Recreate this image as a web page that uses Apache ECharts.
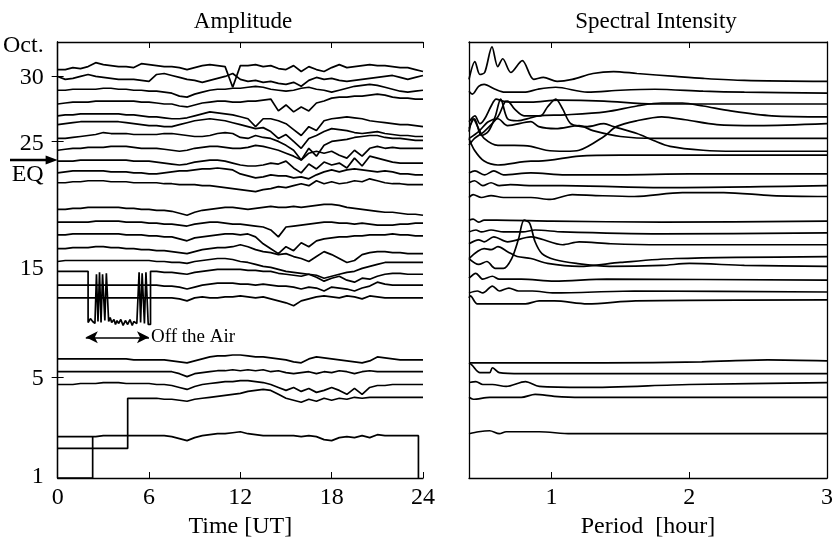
<!DOCTYPE html>
<html>
<head>
<meta charset="utf-8">
<script src="https://cdn.jsdelivr.net/npm/echarts@6/dist/echarts.min.js"></script>
<style>
html, body { margin: 0; padding: 0; background: #fff; }
#main { width: 836px; height: 544px; }
</style>
</head>
<body>
<div id="main"></div>
<script>
// vertical unit: stacked offset (row of the record in the figure), 42 top .. 485 bottom
var hours = [0,0.5,1,1.5,2,2.5,3,3.5,4,4.5,5,5.5,6,6.5,7,7.5,8,8.5,9,9.5,10,10.5,11,11.5,12,
  12.5,13,13.5,14,14.5,15,15.5,16,16.5,17,17.5,18,18.5,19,19.5,20,20.5,21,21.5,22,22.5,23,23.5,24];

// amplitude records, one value per half hour
var oct31Amp = [70,70,68,69,67,63,65,66,67,67, 68,64,65,66,67,67,68,70,68,66, 65,66,67,88,66,66,65,67,66,69, 70,66,72,67,70,72,68,65,68,67, 66,65,66,66,67,68,68,70,72];
var oct30Amp = [77,80,79,77,75,77,78,79,80,80, 80,81,82,75,74,76,78,80,81,83, 81,79,77,74,80,82,81,83,82,84, 85,83,87,81,78,80,79,81,82,81, 80,79,78,77,76,78,80,78,76];
var oct29Amp = [91,91,90,90,90,90,89,89,90,90, 91,91,92,92,93,94,97,98,95,93, 91,90,90,89,89,88,87,88,90,91, 92,91,89,88,90,91,93,91,89,87, 86,85,86,88,90,92,93,92,91];
var oct28Amp = [105,104,103,103,103,102,102,102,102,102, 102,103,103,104,105,105,107,108,106,104, 103,102,102,103,103,102,102,101,100,112, 106,113,108,112,104,102,99,98,98,97, 97,96,95,96,98,99,99,100,100];
var oct27Amp = [117,116,116,115,115,115,115,115,115,116, 116,117,118,118,119,120,120,119,117,115, 113,114,115,116,118,120,128,120,120,122, 125,131,137,128,132,122,120,119,118,119, 120,122,123,124,125,126,126,127,128];
var oct26Amp = [126,125,124,123,123,123,123,123,123,124, 125,126,127,127,128,128,126,124,122,121, 120,121,122,124,126,128,130,129,133,140, 136,143,150,140,137,133,130,131,132,134, 135,134,133,135,136,137,137,138,138];
var oct25Amp = [140,140,139,138,137,136,134,135,135,135, 136,136,136,136,135,135,136,137,138,138, 137,135,134,135,139,140,137,139,140,143, 147,152,162,150,158,147,143,142,141,139, 138,137,137,139,140,140,141,142,142];
var oct24Amp = [152,151,150,150,149,149,149,148,148,148, 149,150,150,150,151,152,153,152,150,149, 148,148,149,150,150,149,147,148,150,152, 155,158,162,155,153,155,153,157,160,152, 158,150,148,150,149,150,150,150,150];
var oct23Amp = [163,163,163,162,162,162,162,162,162,162, 163,163,163,164,165,166,167,166,164,163, 162,162,163,165,167,168,168,167,165,166, 163,170,175,166,171,164,167,165,170,160, 168,158,160,162,164,165,165,165,165];
var oct22Amp = [175,174,173,173,173,173,173,174,174,174, 175,175,176,176,175,174,173,173,172,171, 171,170,171,172,176,178,180,179,177,178, 178,180,179,181,177,174,172,174,172,171, 172,173,174,173,174,176,176,177,177];
var oct21Amp = [185,185,184,184,183,183,183,184,184,184, 185,185,185,185,186,186,187,187,187,188, 188,189,190,191,192,193,194,192,191,189, 190,188,186,188,183,186,184,186,185,183, 184,181,183,185,186,186,187,187,187];
var oct19Amp = [212,212,211,211,210,210,210,210,210,211, 211,212,212,213,213,214,216,218,215,213, 212,211,210,210,211,212,211,210,209,210, 210,209,210,209,208,207,207,208,210,211, 212,213,214,215,215,216,217,217,218];
var oct18Amp = [225,225,225,225,225,224,224,224,224,225, 225,225,226,226,227,227,228,229,227,226, 225,225,226,227,227,228,229,230,233,240, 230,229,228,227,226,225,225,226,226,227, 226,227,228,228,228,227,227,226,226];
var oct17Amp = [238,238,237,237,237,237,237,237,237,238, 238,238,239,239,240,240,242,244,241,240, 239,238,237,237,238,237,240,247,252,257, 250,254,246,250,244,242,241,240,240,239, 239,238,238,238,237,238,238,239,239];
var oct16Amp = [252,252,251,251,251,250,250,251,251,252, 252,253,253,254,254,255,256,257,255,253, 252,251,251,250,248,250,253,255,256,258, 257,260,262,265,260,255,258,262,266,264, 258,256,255,255,256,256,257,257,257];
var oct15Amp = [265,264,264,264,264,264,264,264,264,264, 264,264,264,265,265,266,266,267,265,264, 263,262,262,263,265,266,268,270,271,273, 275,276,277,278,279,282,280,278,276,275, 272,270,268,266,266,266,266,266,266];
// Oct 14: transmitter off the air from about 2 to 6 UT, then half-hourly from 6.5 UT
var oct14OffAir = [[0,275],[2.0,275],[2.0,327],[2.15,323],[2.3,326],[2.45,328],[2.55,278],[2.65,326],[2.75,276],[2.85,327],[2.95,278],
  [3.1,325],[3.2,277],[3.35,326],[3.45,322],[3.55,327],[3.7,324],[3.8,329],[3.9,325],[4.0,328],[4.15,324],[4.3,330],[4.45,325],
  [4.6,329],[4.75,324],[4.9,330],[5.0,326],[5.1,325],[5.2,328],
  [5.35,276],[5.45,327],[5.55,277],[5.7,328],[5.8,276],[5.95,329],[6.1,329],[6.1,275]];
var oct14Amp = [275,276,276,277,278,276,275, 274,273,273,273,273,274,274,275,275,277, 278,279,280,278,281,285,282,280,284,286, 282,283,280,278,277,277,278,278,278];
var oct13Amp = [289,289,289,289,289,289,289,289,289,289, 289,289,289,289,290,290,291,293,291,289, 288,287,287,287,288,288,289,288,289,290, 290,291,293,291,292,295,291,292,293,295, 292,290,286,288,289,289,289,289,289];
var oct12Amp = [302,302,302,302,302,302,302,302,302,302, 302,302,302,302,302,302,303,305,302,301, 302,302,301,301,300,301,302,301,303,305, 307,310,305,303,301,300,301,302,300,301, 303,300,301,302,302,302,302,302,302];
var oct07Amp = [364,364,364,364,364,364,364,364,364,364, 365,365,365,365,365,366,367,368,366,364, 362,361,361,360,360,361,362,362,363,364, 365,367,368,364,362,363,364,365,366,367, 368,366,362,363,364,365,365,365,365];
var oct06Amp = [377,377,377,377,377,377,377,377,377,377, 377,377,377,377,377,377,379,382,379,378, 377,376,376,375,376,375,376,375,377,376, 378,379,378,377,379,377,378,376,377,379, 377,376,377,377,377,377,377,377,377];
var oct05Amp = [390,390,390,389,389,389,388,388,388,389, 389,389,389,390,390,391,393,395,392,390, 389,388,387,387,386,386,387,388,390,393, 396,393,397,394,398,396,393,396,400,394, 400,393,391,391,390,390,390,390,390];
// Oct 4: recording starts at 4.6 UT, then half-hourly from 5 UT
var oct04Start = [[0,455],[4.6,455],[4.6,404]];
var oct04Amp = [404,404,404,404,405,405,406,407,405,404, 403,402,401,400,399,397,396,395,396,400, 404,406,408,405,407,404,406,404,405,403, 404,403,403,403,403,403,403,403,403];
// Oct 2: half-hourly 0 .. 23.5 UT, recording ends at 23.7 UT
var oct02Amp = [443,443,443,443,443,443,442,442,442,442, 442,442,442,442,442,443,445,447,444,442, 441,440,440,439,438,440,441,442,442,442, 442,442,443,442,443,446,447,444,443,444, 442,444,441,442,442,442,442,442];
var oct02End = [[23.7,442],[23.7,485]];
var oct01Amp = [[0,485],[2.3,485],[2.3,443]];

// spectral intensity, [period in hours, offset]
var oct31Spec = [[0.4,80],[0.443,62],[0.479,75],[0.514,73],[0.567,47],[0.609,67],[0.645,59],[0.704,73],[0.787,61],[0.87,80],[0.94,78],[1.04,82],[1.15,80],[1.3,74],[1.45,72],[1.62,74],[1.9,77],[2.1,79],[2.4,81],[3,82]];
var oct30Spec = [[0.4,92],[0.425,95],[0.47,87],[0.51,85],[0.59,90],[0.66,93],[0.8,93],[0.9,90],[1.03,88],[1.26,93],[1.5,91],[1.75,90],[2.1,92],[2.4,93],[3,94]];
var oct29Spec = [[0.4,123],[0.443,117],[0.479,125],[0.514,120],[0.561,107],[0.597,100],[0.645,102],[0.704,103],[0.85,103],[1.05,101],[1.38,102],[1.74,105],[2.2,105],[3,105]];
var oct28Spec = [[0.4,130],[0.44,120],[0.49,137],[0.54,133],[0.59,118],[0.63,100],[0.68,120],[0.75,122],[0.85,119],[0.906,117],[1.1,116],[1.39,113],[1.62,107],[1.8,104],[1.95,104],[2.1,107],[2.3,112],[2.6,117],[3,118]];
var oct27Spec = [[0.4,133],[0.43,120],[0.47,130],[0.51,140],[0.61,147],[0.73,147],[0.85,148],[0.96,152],[1.1,153],[1.2,152],[1.38,138],[1.47,128],[1.62,122],[1.8,118],[1.97,121],[2.2,126],[2.5,127],[3,125]];
var oct26Spec = [[0.4,140],[0.47,133],[0.54,123],[0.61,120],[0.68,127],[0.85,123],[0.906,128],[1.03,130],[1.2,127],[1.3,132],[1.5,138],[1.75,140],[3,140]];
var oct25Spec = [[0.4,147],[0.44,140],[0.51,133],[0.61,118],[0.66,103],[0.68,102],[0.73,110],[0.8,117],[0.92,117],[0.97,108],[1.03,100],[1.08,110],[1.14,125],[1.26,128],[1.38,125],[1.45,128],[1.62,135],[1.74,142],[1.86,148],[2.1,152],[2.33,153],[3,153]];
var oct24Spec = [[0.4,140],[0.44,152],[0.51,163],[0.61,167],[0.85,163],[0.906,163],[1.2,158],[1.5,157],[3,157]];
var oct23Spec = [[0.4,175],[0.443,173],[0.514,177],[0.58,173],[0.65,177],[0.85,175],[1.1,177],[1.5,177],[2,176],[3,176]];
var oct22Spec = [[0.4,185],[0.44,183],[0.5,188],[0.56,185],[0.62,188],[0.7,187],[0.85,188],[1.08,188],[1.8,190],[3,188]];
var oct21Spec = [[0.4,200],[0.43,197],[0.49,200],[0.56,198],[0.65,200],[0.85,200],[0.99,202],[1.15,197],[1.32,198],[1.6,199],[1.95,195],[2.25,195],[2.6,198],[3,199]];
var oct19Spec = [[0.4,223],[0.43,222],[0.47,225],[0.51,223],[0.6,223],[1.0,224],[1.8,225],[3,224]];
var oct18Spec = [[0.4,235],[0.45,233],[0.49,235],[0.56,233],[0.65,235],[0.79,235],[0.88,233],[1.08,235],[1.8,237],[3,236]];
var oct17Spec = [[0.4,247],[0.47,243],[0.51,245],[0.58,240],[0.68,245],[0.85,240],[0.92,242],[1.08,248],[1.2,245],[1.43,247],[1.8,248],[3,248]];
var oct16Spec = [[0.4,262],[0.51,252],[0.56,253],[0.61,250],[0.68,255],[0.75,260],[0.85,262],[0.97,267],[1.2,270],[1.5,266],[1.9,262],[3,260]];
var oct15Spec = [[0.4,262],[0.47,268],[0.53,265],[0.59,272],[0.65,272],[0.71,262],[0.76,242],[0.8,223],[0.84,226],[0.88,245],[0.93,257],[1.02,263],[1.18,267],[1.42,270],[1.8,269],[2.0,267],[2.4,269],[3,270]];
var oct14Spec = [[0.4,282],[0.45,277],[0.5,283],[0.57,280],[0.62,283],[0.78,283],[1.02,285],[1.4,283],[3,284]];
var oct13Spec = [[0.4,297],[0.46,295],[0.5,297],[0.57,290],[0.62,295],[0.69,292],[0.76,295],[0.86,295],[1.02,297],[1.6,295],[3,296]];
var oct12Spec = [[0.4,302],[0.41,300],[0.46,308],[0.55,308],[0.67,308],[0.81,308],[0.91,305],[1.02,305],[1.26,308],[1.61,305],[3,304]];
var oct07Spec = [[0.4,368],[0.78,368],[1.38,368],[2.09,367],[2.57,365],[3,366]];
var oct06Spec = [[0.4,368],[0.42,370],[0.48,378],[0.55,378],[0.57,373],[0.62,378],[0.78,379],[3,379]];
var oct05Spec = [[0.4,388],[0.45,387],[0.5,390],[0.57,390],[0.67,392],[0.81,387],[0.91,392],[1.24,393],[2,390],[3,388]];
var oct04Spec = [[0.4,403],[0.43,405],[0.55,403],[0.78,403],[0.88,400],[1.02,402],[1.21,403],[3,403]];
var oct02Spec = [[0.4,440],[0.47,438],[0.55,437],[0.62,440],[0.67,438],[0.91,438],[1.14,440],[2,440],[3,440]];

// axis labels
var timeTicks = [0, 6, 12, 18, 24];
var dayLabels = ['Oct.', '30', '25', 'EQ', '15', '5', '1'];
var dayLabelRows = [46, 78, 145, 177, 272, 384, 484];
var dayTickRows = [77, 143, 383];
var periodLabels = [1, 2, 3];
var periodTicks = [1, 2];
var eqRow = 162;
var offAirSpan = [1.85, 6.0];
var offAirRow = 342;

var FONT = 'Liberation Serif, Times New Roman, DejaVu Serif, serif';

function onHours(rows, first) {
  return rows.map(function (r, i) { return [hours[first + i], r]; });
}

var ampData = [
  onHours(oct31Amp, 0), onHours(oct30Amp, 0), onHours(oct29Amp, 0), onHours(oct28Amp, 0),
  onHours(oct27Amp, 0), onHours(oct26Amp, 0), onHours(oct25Amp, 0), onHours(oct24Amp, 0),
  onHours(oct23Amp, 0), onHours(oct22Amp, 0), onHours(oct21Amp, 0), onHours(oct19Amp, 0),
  onHours(oct18Amp, 0), onHours(oct17Amp, 0), onHours(oct16Amp, 0), onHours(oct15Amp, 0),
  oct14OffAir.concat(onHours(oct14Amp, 13)),
  onHours(oct13Amp, 0), onHours(oct12Amp, 0), onHours(oct07Amp, 0), onHours(oct06Amp, 0),
  onHours(oct05Amp, 0),
  oct04Start.concat(onHours(oct04Amp, 10)),
  onHours(oct02Amp, 0).concat(oct02End),
  oct01Amp
];
var specData = [oct31Spec, oct30Spec, oct29Spec, oct28Spec, oct27Spec, oct26Spec, oct25Spec, oct24Spec,
  oct23Spec, oct22Spec, oct21Spec, oct19Spec, oct18Spec, oct17Spec, oct16Spec, oct15Spec,
  oct14Spec, oct13Spec, oct12Spec, oct07Spec, oct06Spec, oct05Spec, oct04Spec, oct02Spec];

var lineStyle = { color: '#000', width: 1.7 };
var axisLine = { show: true, lineStyle: { color: '#000', width: 1.3 } };
var textStyle = { color: '#000', fontFamily: FONT, fontSize: 24 };
var titleStyle = { color: '#000', fontFamily: FONT, fontSize: 23, fontWeight: 'normal' };

var series = [];
ampData.forEach(function (d, i) {
  var s = {
    type: 'line', xAxisIndex: 0, yAxisIndex: 0, data: d,
    symbol: 'none', lineStyle: lineStyle, animation: false, silent: true
  };
  if (i === 16) {
    s.markLine = {
      silent: true, symbol: ['arrow', 'arrow'], symbolSize: [9, 12], animation: false,
      lineStyle: { color: '#000', width: 1.6, type: 'solid' },
      label: { show: true, position: 'end', formatter: 'Off the Air', color: '#000',
        fontFamily: FONT, fontSize: 19, distance: 2 },
      data: [[{ coord: [offAirSpan[0], offAirRow] }, { coord: [offAirSpan[1], offAirRow] }]]
    };
  }
  series.push(s);
});
specData.forEach(function (d) {
  series.push({
    type: 'line', xAxisIndex: 2, yAxisIndex: 2, data: d, smooth: 0.3,
    symbol: 'none', lineStyle: lineStyle, animation: false, silent: true
  });
});

var chart = echarts.init(document.getElementById('main'));
chart.setOption({
  backgroundColor: '#fff',
  animation: false,
  title: [
    { text: 'Amplitude', left: 238, top: 5, textAlign: 'center', textStyle: titleStyle },
    { text: 'Spectral Intensity', left: 651, top: 5, textAlign: 'center', textStyle: titleStyle }
  ],
  grid: [
    { left: 57, right: 413, top: 42, bottom: 59 },
    { left: 469, right: 2, top: 42, bottom: 59 }
  ],
  xAxis: [
    { gridIndex: 0, type: 'value', position: 'bottom', min: 0, max: 24, interval: 6,
      axisLine: axisLine, splitLine: { show: false },
      axisTick: { inside: true, length: 6, lineStyle: { color: '#000' } },
      axisLabel: Object.assign({ margin: 8, customValues: timeTicks }, textStyle),
      name: 'Time [UT]', nameLocation: 'middle', nameGap: 37, nameTextStyle: textStyle },
    { gridIndex: 0, type: 'value', position: 'top', min: 0, max: 24, interval: 6,
      axisLine: axisLine, splitLine: { show: false },
      axisTick: { inside: true, length: 6, lineStyle: { color: '#000' } },
      axisLabel: { show: false } },
    { gridIndex: 1, type: 'value', position: 'bottom', min: 0.4, max: 3,
      axisLine: axisLine, splitLine: { show: false },
      axisTick: { inside: true, length: 6, customValues: periodTicks, lineStyle: { color: '#000' } },
      axisLabel: Object.assign({ margin: 8, customValues: periodLabels }, textStyle),
      name: 'Period  [hour]', nameLocation: 'middle', nameGap: 37, nameTextStyle: textStyle },
    { gridIndex: 1, type: 'value', position: 'top', min: 0.4, max: 3,
      axisLine: axisLine, splitLine: { show: false },
      axisTick: { inside: true, length: 6, customValues: periodTicks, lineStyle: { color: '#000' } },
      axisLabel: { show: false } }
  ],
  yAxis: [
    { gridIndex: 0, type: 'value', position: 'left', inverse: true, min: 42, max: 485,
      axisLine: axisLine, splitLine: { show: false },
      axisTick: { inside: true, length: 6, customValues: dayTickRows, lineStyle: { color: '#000' } },
      axisLabel: Object.assign({
        margin: 14, customValues: dayLabelRows,
        formatter: function (v) { return dayLabels[dayLabelRows.indexOf(v)]; }
      }, textStyle) },
    { gridIndex: 0, type: 'value', position: 'right', inverse: true, min: 42, max: 485,
      axisLine: axisLine, splitLine: { show: false },
      axisTick: { inside: true, length: 6, customValues: dayTickRows, lineStyle: { color: '#000' } },
      axisLabel: { show: false } },
    { gridIndex: 1, type: 'value', position: 'left', inverse: true, min: 42, max: 485,
      axisLine: axisLine, splitLine: { show: false }, axisTick: { show: false }, axisLabel: { show: false } },
    { gridIndex: 1, type: 'value', position: 'right', inverse: true, min: 42, max: 485,
      axisLine: axisLine, splitLine: { show: false }, axisTick: { show: false }, axisLabel: { show: false } }
  ],
  series: series
});

// earthquake arrow pointing at the Oct 23 record
var tip = chart.convertToPixel({ xAxisIndex: 0, yAxisIndex: 0 }, [0, eqRow]);
chart.setOption({
  graphic: [
    { type: 'line', shape: { x1: 10, y1: tip[1], x2: tip[0] - 9, y2: tip[1] },
      style: { stroke: '#000', lineWidth: 2.5 } },
    { type: 'polygon', shape: { points: [[tip[0], tip[1]], [tip[0] - 12, tip[1] - 4.5], [tip[0] - 12, tip[1] + 4.5]] },
      style: { fill: '#000' } }
  ]
});
</script>
</body>
</html>
